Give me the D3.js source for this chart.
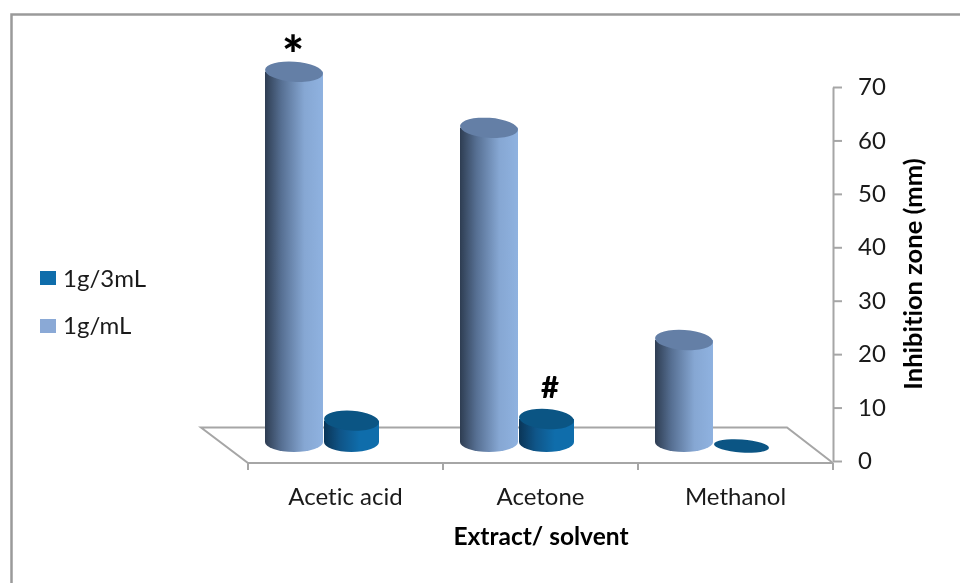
<!DOCTYPE html>
<html><head><meta charset="utf-8">
<script src="https://cdn.jsdelivr.net/npm/d3@7"></script>
<style>html,body{margin:0;padding:0;background:#fff}svg{display:block;filter:blur(0.45px)}text{font-family:Lato,"Open Sans",sans-serif;font-variant-ligatures:none}</style>
</head><body>
<svg id="c" width="960" height="583"></svg>
<script>
const categories = ["Acetic acid","Acetone","Methanol"];
const seriesNames = ["1g/3mL","1g/mL"];
const valuesLow = [4.0,4.3,0];
const valuesHigh = [69.3,58.8,19.1];
const yTicks = [0,10,20,30,40,50,60,70];
const marks = ["*","#"];

const svg = d3.select("#c");
svg.append("path").attr("d","M11.5,583V14.5H960").attr("fill","none")
  .attr("stroke","#9a9a9a").attr("stroke-width",2.5);

const defs = svg.append("defs");
function grad(id,stops){
  const g = defs.append("linearGradient").attr("id",id);
  stops.forEach(s=>g.append("stop").attr("offset",s[0]).attr("stop-color",s[1]));
}
grad("gHigh",[[0,"#2e3d52"],[0.28,"#566f92"],[0.68,"#86a7d3"],[1,"#8fb2e0"]]);
grad("gLow",[[0,"#0a3557"],[0.3,"#0f5588"],[0.65,"#0f6dab"],[1,"#0f6dab"]]);

const y = d3.scaleLinear().domain([0,70]).range([461,87]);
const x = d3.scaleBand().domain(categories).range([248,833]);
const depth = 19;
const barW = 58, lowW = 55, ry = 10;
const gap = x.bandwidth()/2;

// floor
const floor = svg.append("g").attr("fill","none").attr("stroke","#a6a6a6").attr("stroke-width",2);
floor.append("path").attr("d",d3.line()([[833,463],[248,463],[201,427.5],[787,427.5],[833,463]]));
categories.concat([""]).forEach((c,i)=>{
  const px = i<3 ? x(c) : 833;
  floor.append("line").attr("x1",px).attr("x2",px).attr("y1",463).attr("y2",470);
});

// y axis
const axis = d3.axisRight(y).tickValues(yTicks).tickSize(9).tickSizeOuter(0).tickPadding(16);
const ag = svg.append("g").attr("transform","translate(833,0)").call(axis);
ag.select(".domain").attr("stroke","#a6a6a6").attr("stroke-width",2);
ag.selectAll(".tick line").attr("stroke","#a6a6a6").attr("stroke-width",2);
ag.selectAll("text").attr("font-size",24).style("font-family",'Lato,"Open Sans",sans-serif').attr("fill","#1a1a1a");

function cyl(cx,v,w,fill,topFill){
  const base = y(0)-depth, top = y(v)-depth, a = w/2;
  const g = svg.append("g");
  if (v>0) {
    g.append("path").attr("fill",fill)
     .attr("d",`M${cx-a},${top}L${cx-a},${base}A${a},${ry} 0 0 0 ${cx+a},${base}L${cx+a},${top}Z`);
    g.append("ellipse").attr("cx",cx).attr("cy",top).attr("rx",a).attr("ry",ry)
     .attr("fill",topFill).attr("transform",`rotate(4 ${cx} ${top})`);
  } else {
    g.append("ellipse").attr("cx",cx).attr("cy",base+4).attr("rx",a).attr("ry",6.5)
     .attr("fill",topFill).attr("transform",`rotate(4 ${cx} ${base+4})`);
  }
}
categories.forEach((c,i)=>{
  const c1 = x(c)+gap-51.5, c2 = c1+barW/2+lowW/2+1;
  cyl(c2,valuesLow[i],lowW,"url(#gLow)","#0b5584");
  cyl(c1,valuesHigh[i],barW,"url(#gHigh)","#647fa6");
});

// category labels
categories.forEach(c=>svg.append("text").attr("x",x(c)+gap).attr("y",505).attr("fill","#1a1a1a")
  .attr("text-anchor","middle").attr("font-size",24).text(c));

// axis titles
svg.append("text").attr("x",541).attr("y",545).attr("text-anchor","middle")
  .attr("font-size",24.5).attr("font-weight",700).attr("fill","#000").text("Extract/ solvent");
svg.append("text").attr("transform","translate(922,274) rotate(-90)").attr("text-anchor","middle")
  .attr("font-size",25.5).attr("font-weight",700).attr("fill","#000").text("Inhibition zone (mm)");

// legend
const lg = [["#0f6dab",271,287],["#8aa9d6",319,334]];
seriesNames.forEach((s,i)=>{
  svg.append("rect").attr("x",40).attr("y",lg[i][1]).attr("width",16).attr("height",14).attr("fill",lg[i][0]);
  svg.append("text").attr("x",63).attr("y",lg[i][2]).attr("font-size",24).attr("fill","#1a1a1a").text(s);
});

// significance marks
svg.append("text").attr("x",293).attr("y",73).attr("text-anchor","middle").attr("font-size",52).attr("font-weight",900).attr("fill","#000").text(marks[0]);
svg.append("text").attr("x",550).attr("y",398).attr("text-anchor","middle").attr("font-size",31).attr("font-weight",900).attr("fill","#000").text(marks[1]);
</script>
</body></html>
